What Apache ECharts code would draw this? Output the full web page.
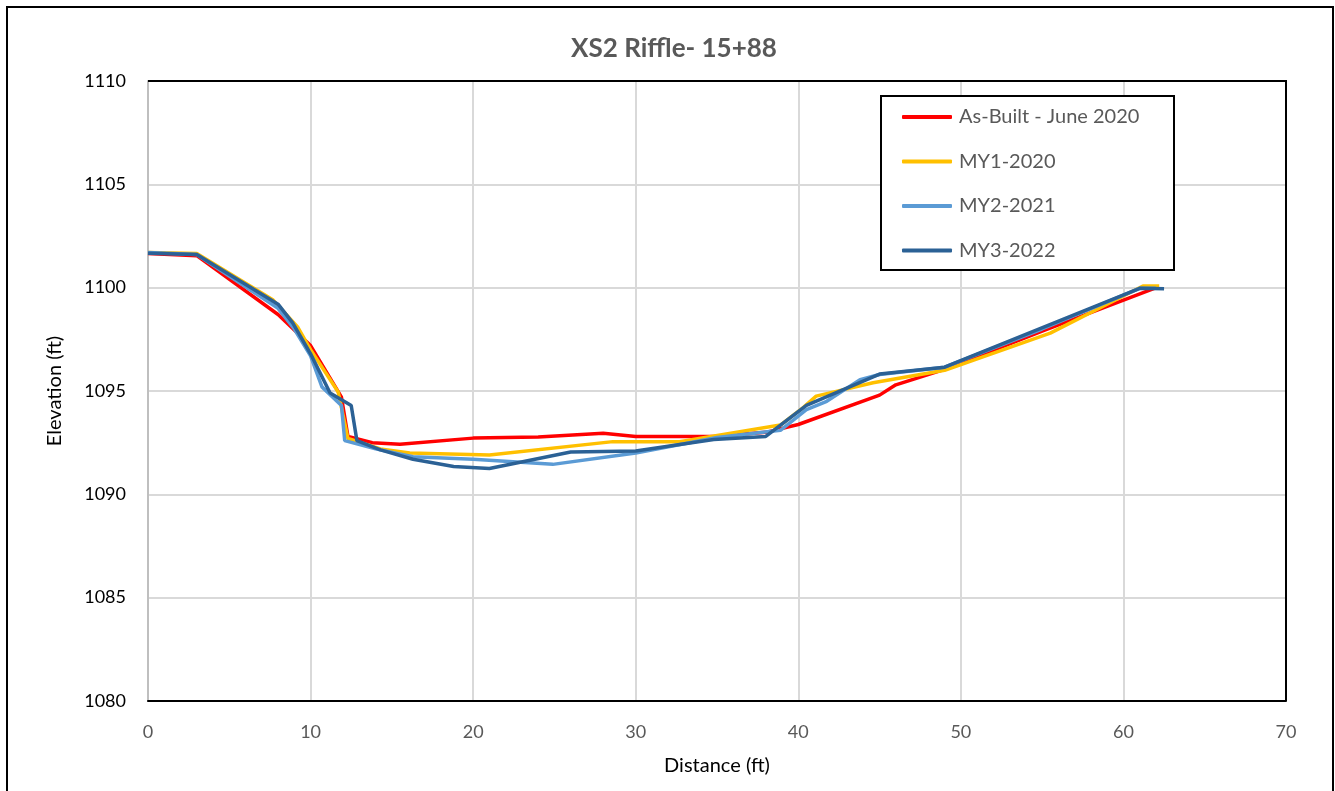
<!DOCTYPE html>
<html>
<head>
<meta charset="utf-8">
<title>XS2 Riffle- 15+88</title>
<script src="https://cdn.jsdelivr.net/npm/echarts@6/dist/echarts.min.js"></script>
<style>
  html, body { margin: 0; padding: 0; background: #ffffff; }
  #chart { width: 1335px; height: 791px; }
</style>
</head>
<body>
<div id="chart"></div>
<script>
// Cross-section survey, distance (ft) vs elevation (ft)
const seriesNames = ['As-Built - June 2020', 'MY1-2020', 'MY2-2021', 'MY3-2022'];
const seriesColors = ['#FF0000', '#FFC000', '#5B9BD5', '#2B6195'];

const asBuilt = [
  [0, 1101.65], [3, 1101.55], [8, 1098.7], [10, 1097.2], [11.9, 1094.7], [12.3, 1092.8],
  [13.8, 1092.5], [15.5, 1092.42], [20, 1092.72], [24, 1092.78], [28, 1092.95], [30, 1092.8],
  [34.8, 1092.8], [38, 1093.0], [40, 1093.38], [45, 1094.8], [46, 1095.3], [49, 1096.05],
  [55, 1097.9], [61.9, 1099.97]
];
const my1 = [
  [0, 1101.7], [3, 1101.65], [7.7, 1099.4], [9.2, 1098.1], [10, 1097.0], [11.7, 1094.95],
  [12.3, 1092.7], [14.3, 1092.2], [16.1, 1092.0], [21, 1091.9], [28.6, 1092.55], [32.7, 1092.55],
  [38.9, 1093.35], [40.3, 1094.2], [41.1, 1094.75], [44.6, 1095.4], [49, 1096.0], [55.5, 1097.8],
  [61.2, 1100.08], [62.2, 1100.08]
];
const my2 = [
  [0, 1101.7], [3, 1101.6], [8, 1099.0], [9, 1098.0], [10, 1096.7], [10.7, 1095.2],
  [11.9, 1094.3], [12.1, 1092.6], [14, 1092.2], [16.3, 1091.82], [20, 1091.7], [24.9, 1091.45],
  [30, 1092.0], [35, 1092.75], [38.9, 1093.1], [40.5, 1094.1], [41.75, 1094.5], [43.8, 1095.55],
  [45, 1095.8], [49, 1096.15], [55, 1098.0], [61, 1099.97], [62, 1099.97]
];
const my3 = [
  [0, 1101.66], [3, 1101.6], [8, 1099.2], [8.9, 1098.3], [10, 1096.8], [11.2, 1094.9],
  [12.5, 1094.3], [12.85, 1092.6], [14.3, 1092.15], [16.3, 1091.7], [18.8, 1091.35], [21, 1091.25],
  [26, 1092.05], [30, 1092.1], [34.8, 1092.65], [38, 1092.8], [40.5, 1094.3], [45, 1095.82],
  [49, 1096.15], [61, 1099.97], [62.5, 1099.95]
];
const seriesData = [asBuilt, my1, my2, my3];

const xTicks = { min: 0, max: 70, interval: 10 };
const yTicks = { min: 1080, max: 1110, interval: 5 };

const FONT = 'Lato, "Liberation Sans", sans-serif';

const chart = echarts.init(document.getElementById('chart'), null, { renderer: 'canvas' });

chart.setOption({
  backgroundColor: '#ffffff',
  animation: false,
  title: {
    text: 'XS2 Riffle- 15+88',
    left: 669,
    textAlign: 'center',
    top: 31,
    textStyle: { fontFamily: FONT, fontSize: 26, fontWeight: 'bold', color: '#595959' }
  },
  graphic: [
    {
      type: 'rect',
      shape: { x: 7, y: 7, width: 1326, height: 800 },
      style: { fill: 'none', stroke: '#000000', lineWidth: 2 },
      silent: true
    },
    {
      // top and right edges of the plot frame
      type: 'polyline',
      shape: { points: [[148, 81], [1286, 81], [1286, 701]] },
      style: { fill: 'none', stroke: '#000000', lineWidth: 2 },
      z: 5,
      silent: true
    },
    {
      type: 'rect',
      shape: { x: 881, y: 96, width: 293, height: 174 },
      style: { fill: '#ffffff', stroke: '#000000', lineWidth: 2 },
      z: 10,
      silent: true
    }
  ],
  legend: {
    orient: 'vertical',
    left: 880,
    top: 95,
    padding: [12, 18, 14, 22],
    icon: 'roundRect',
    itemWidth: 50,
    itemHeight: 4,
    itemGap: 24.5,
    z: 20,
    textStyle: { fontFamily: FONT, fontSize: 20, color: '#595959', padding: [0, 0, 0, 2] },
    data: seriesNames
  },
  grid: { left: 148, right: 49, top: 81, bottom: 90, show: false },
  xAxis: {
    type: 'value',
    min: xTicks.min, max: xTicks.max, interval: xTicks.interval,
    name: 'Distance (ft)',
    nameLocation: 'middle',
    nameGap: 55,
    nameTextStyle: { fontFamily: FONT, fontSize: 20, color: '#000000' },
    axisLine: { show: true, lineStyle: { color: '#000000', width: 2 } },
    axisTick: { show: false },
    axisLabel: { fontFamily: FONT, fontSize: 18, color: '#595959', margin: 22 },
    splitLine: { show: true, lineStyle: { color: '#d9d9d9', width: 2 } }
  },
  yAxis: {
    type: 'value',
    min: yTicks.min, max: yTicks.max, interval: yTicks.interval,
    name: 'Elevation (ft)',
    nameLocation: 'middle',
    nameGap: 83,
    nameRotate: 90,
    nameTextStyle: { fontFamily: FONT, fontSize: 20, color: '#000000' },
    axisLine: { show: true, lineStyle: { color: '#bfbfbf', width: 2 } },
    axisTick: { show: false },
    axisLabel: { fontFamily: FONT, fontSize: 18, color: '#000000', margin: 22, formatter: v => String(v) },
    splitLine: { show: true, lineStyle: { color: '#d9d9d9', width: 2 } }
  },
  series: seriesNames.map((name, i) => ({
    name: name,
    type: 'line',
    data: seriesData[i],
    symbol: 'none',
    smooth: false,
    color: seriesColors[i],
    lineStyle: { color: seriesColors[i], width: 3.5 },
    z: 2 + i
  }))
});
</script>
</body>
</html>
